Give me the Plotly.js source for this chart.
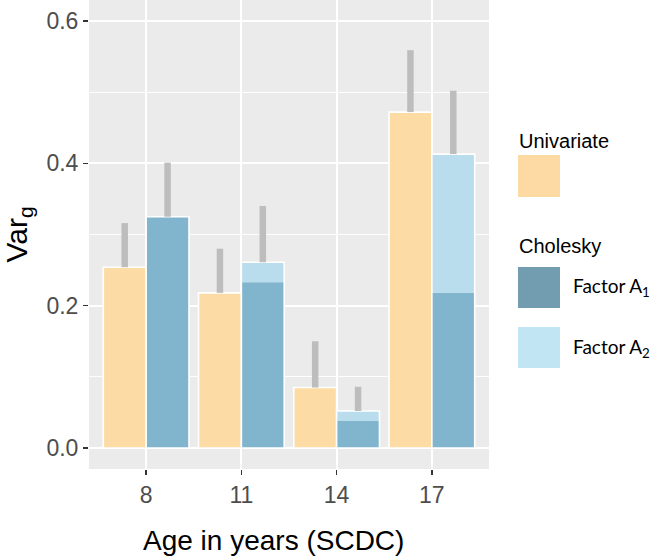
<!DOCTYPE html>
<html>
<head>
<meta charset="utf-8">
<script src="https://cdn.plot.ly/plotly-3.0.1.min.js"></script>
<style>html,body{margin:0;padding:0;background:#fff;}#chart{width:650px;height:558px;}</style>
</head>
<body>
<div id="chart"></div>
<script>
// Data
const ages = ["8", "11", "14", "17"];
const univariate = [0.254, 0.218, 0.085, 0.472];
const univariateUpper = [0.316, 0.280, 0.150, 0.559];
const factorA1 = [0.325, 0.233, 0.038, 0.218];
const factorA2 = [0.000, 0.028, 0.014, 0.195];
const choleskyUpper = [0.401, 0.340, 0.086, 0.502];

const choleskyTotal = factorA1.map((v, i) => v + factorA2[i]);

const ERR_COLOR = "#BDBDBD";
const traces = [
  {
    type: "bar", name: "Univariate", x: ages, y: univariate,
    width: 0.45, offset: -0.45,
    marker: {color: "#FDDBA5", line: {color: "#FFFFFF", width: 1.6}},
    error_y: {type: "data", symmetric: false,
      array: univariateUpper.map((u, i) => u - univariate[i]),
      arrayminus: univariate.map(() => 0),
      color: ERR_COLOR, thickness: 6.5, width: 0},
    showlegend: false
  },
  {
    type: "bar", name: "Factor A1", x: ages, y: factorA1,
    width: 0.45, offset: 0,
    marker: {color: "#81B4CD", line: {width: 0}},
    showlegend: false
  },
  {
    type: "bar", name: "Factor A2", x: ages, y: factorA2, base: factorA1,
    width: 0.45, offset: 0,
    marker: {color: "#B9DDEC", line: {width: 0}},
    showlegend: false
  },
  {
    type: "bar", name: "Cholesky", x: ages, y: choleskyTotal,
    width: 0.45, offset: 0,
    marker: {color: "rgba(0,0,0,0)", line: {color: "#FFFFFF", width: 1.6}},
    error_y: {type: "data", symmetric: false,
      array: choleskyUpper.map((u, i) => u - choleskyTotal[i]),
      arrayminus: choleskyTotal.map(() => 0),
      color: ERR_COLOR, thickness: 6.5, width: 0},
    showlegend: false
  }
];

const AX_FONT = "Liberation Sans, Arial, sans-serif";
const LEG_FONT = "Lato, Open Sans, sans-serif";

const shapes = [
  {type: "rect", xref: "paper", yref: "paper", x0: 1.0725, x1: 1.1775, y0: 0.580, y1: 0.6695, fillcolor: "#FDD9A3", line: {width: 0}},
  {type: "rect", xref: "paper", yref: "paper", x0: 1.0725, x1: 1.1775, y0: 0.3433, y1: 0.4307, fillcolor: "#729DB1", line: {width: 0}},
  {type: "rect", xref: "paper", yref: "paper", x0: 1.0725, x1: 1.1775, y0: 0.2154, y1: 0.3028, fillcolor: "#C2E5F4", line: {width: 0}}
];

const annotations = [
  {text: "Univariate", xref: "paper", yref: "paper", x: 1.07, y: 0.699, xanchor: "left", yanchor: "middle", showarrow: false, font: {family: AX_FONT, size: 20, color: "#000"}},
  {text: "Cholesky", xref: "paper", yref: "paper", x: 1.07, y: 0.4755, xanchor: "left", yanchor: "middle", showarrow: false, font: {family: AX_FONT, size: 20, color: "#000"}},
  {text: "Factor A<sub>1</sub>", xref: "paper", yref: "paper", x: 1.205, y: 0.387, xanchor: "left", yanchor: "middle", showarrow: false, font: {family: LEG_FONT, size: 19, color: "#000"}},
  {text: "Factor A<sub>2</sub>", xref: "paper", yref: "paper", x: 1.205, y: 0.259, xanchor: "left", yanchor: "middle", showarrow: false, font: {family: LEG_FONT, size: 19, color: "#000"}},
  {text: "Age in years (SCDC)", xref: "paper", yref: "paper", x: 0.46, y: -0.1514, xanchor: "center", yanchor: "middle", showarrow: false, font: {family: AX_FONT, size: 28, color: "#000"}}
];

const layout = {
  width: 650, height: 558,
  margin: {l: 89, r: 161, t: 0, b: 89},
  paper_bgcolor: "#FFFFFF", plot_bgcolor: "#EBEBEB",
  barmode: "overlay",
  showlegend: false,
  font: {family: AX_FONT},
  xaxis: {
    type: "category", range: [-0.6, 3.6],
    showgrid: true, gridcolor: "#FFFFFF", gridwidth: 1.8,
    zeroline: false, showline: false,
    ticks: "outside", ticklen: 5, tickwidth: 1.6, tickcolor: "#333333",
    tickfont: {family: AX_FONT, size: 23, color: "#4D4D4D"}
  },
  yaxis: {
    range: [-0.0295, 0.6295], tick0: 0, dtick: 0.2, tickformat: ".1f",
    showgrid: true, gridcolor: "#FFFFFF", gridwidth: 1.8,
    minor: {tick0: 0, dtick: 0.1, showgrid: true, gridcolor: "#FFFFFF", gridwidth: 0.9, ticks: ""},
    zeroline: false, showline: false,
    ticks: "outside", ticklen: 5, tickwidth: 1.6, tickcolor: "#333333",
    tickfont: {family: AX_FONT, size: 23, color: "#4D4D4D"},
    title: {text: "Var<sub>g</sub>", font: {family: AX_FONT, size: 30, color: "#000"}, standoff: 14}
  },
  shapes: shapes,
  annotations: annotations
};

Plotly.newPlot("chart", traces, layout, {displayModeBar: false, staticPlot: true});
</script>
</body>
</html>
